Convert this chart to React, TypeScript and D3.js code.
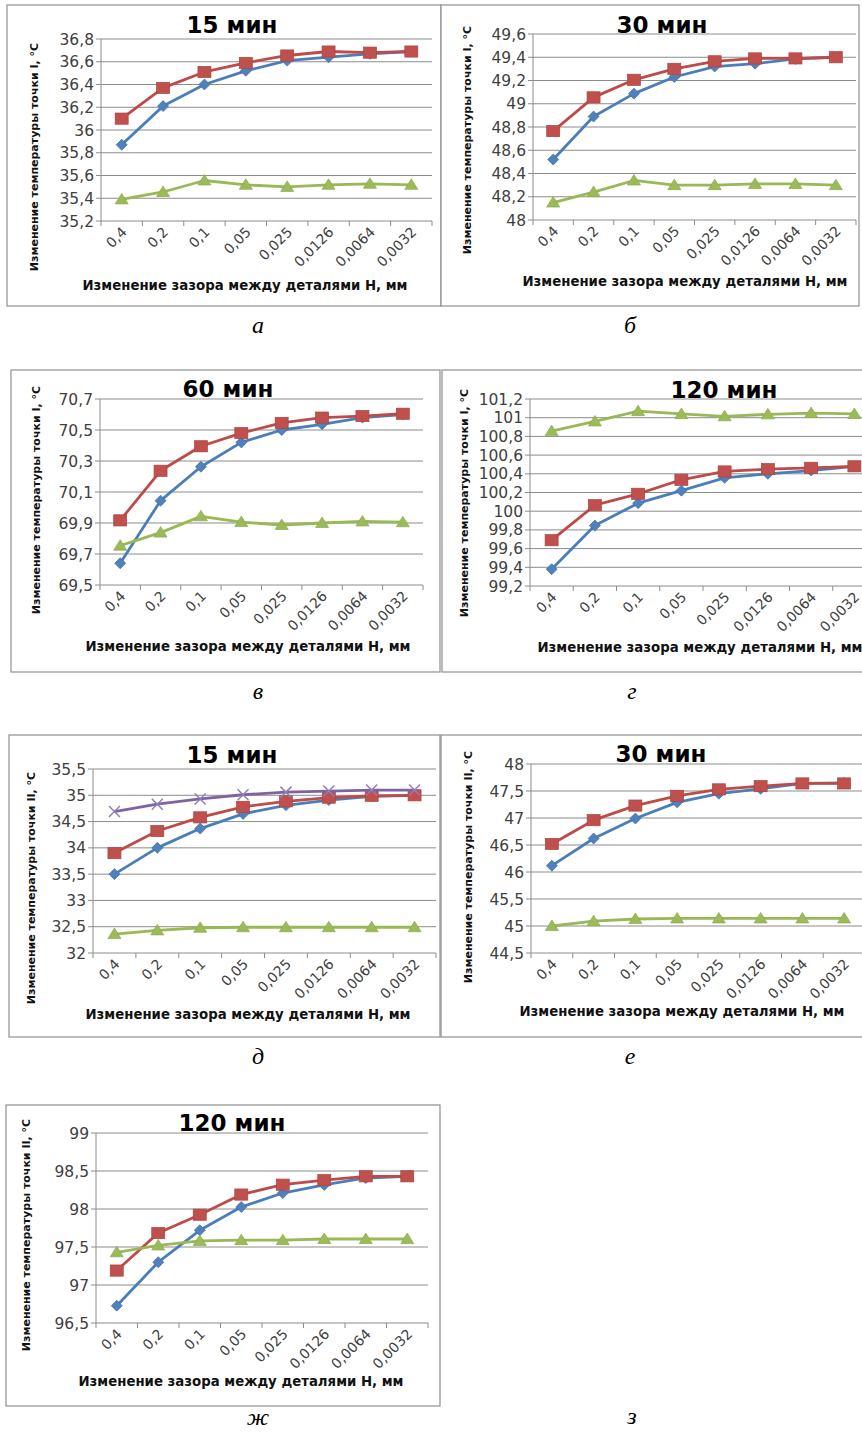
import React from "react";
import * as d3 from "d3";

const W = 862;
const H = 1436;

// категории: зазор между деталями H, мм
const gaps = ["0,4", "0,2", "0,1", "0,05", "0,025", "0,0126", "0,0064", "0,0032"];

// точка I, 15 мин
const i15Blue = [35.87, 36.21, 36.4, 36.52, 36.61, 36.64, 36.67, 36.69];
const i15Red = [36.1, 36.37, 36.51, 36.59, 36.655, 36.69, 36.68, 36.69];
const i15Green = [35.39, 35.455, 35.556, 35.518, 35.5, 35.518, 35.527, 35.518];
const i15Ticks = [35.2, 35.4, 35.6, 35.8, 36, 36.2, 36.4, 36.6, 36.8];

// точка I, 30 мин
const i30Blue = [48.52, 48.89, 49.087, 49.23, 49.32, 49.345, 49.386, 49.4];
const i30Red = [48.765, 49.055, 49.206, 49.3, 49.365, 49.39, 49.39, 49.4];
const i30Green = [48.15, 48.24, 48.34, 48.3, 48.3, 48.31, 48.31, 48.3];
const i30Ticks = [48, 48.2, 48.4, 48.6, 48.8, 49, 49.2, 49.4, 49.6];

// точка I, 60 мин
const i60Blue = [69.64, 70.044, 70.263, 70.42, 70.5, 70.537, 70.58, 70.6];
const i60Red = [69.917, 70.237, 70.395, 70.48, 70.546, 70.58, 70.59, 70.605];
const i60Green = [69.754, 69.838, 69.943, 69.906, 69.887, 69.9, 69.91, 69.905];
const i60Ticks = [69.5, 69.7, 69.9, 70.1, 70.3, 70.5, 70.7];

// точка I, 120 мин
const i120Blue = [99.38, 99.846, 100.086, 100.22, 100.357, 100.4, 100.435, 100.48];
const i120Red = [99.69, 100.064, 100.186, 100.336, 100.425, 100.45, 100.464, 100.48];
const i120Green = [100.857, 100.96, 101.07, 101.04, 101.015, 101.036, 101.05, 101.04];
const i120Ticks = [99.2, 99.4, 99.6, 99.8, 100, 100.2, 100.4, 100.6, 100.8, 101, 101.2];

// точка II, 15 мин
const ii15Blue = [33.5, 34.0, 34.367, 34.646, 34.81, 34.91, 34.98, 35.0];
const ii15Red = [33.9, 34.32, 34.58, 34.78, 34.885, 34.955, 34.99, 35.0];
const ii15Violet = [34.69, 34.83, 34.93, 35.01, 35.06, 35.08, 35.1, 35.1];
const ii15Green = [32.36, 32.43, 32.48, 32.49, 32.49, 32.49, 32.49, 32.49];
const ii15Ticks = [32, 32.5, 33, 33.5, 34, 34.5, 35, 35.5];

// точка II, 30 мин
const ii30Blue = [46.117, 46.62, 46.99, 47.29, 47.45, 47.54, 47.64, 47.65];
const ii30Red = [46.52, 46.96, 47.23, 47.41, 47.53, 47.59, 47.64, 47.64];
const ii30Green = [45.0, 45.09, 45.13, 45.14, 45.14, 45.14, 45.14, 45.14];
const ii30Ticks = [44.5, 45, 45.5, 46, 46.5, 47, 47.5, 48];

// точка II, 120 мин
const ii120Blue = [96.728, 97.3, 97.72, 98.026, 98.21, 98.316, 98.408, 98.43];
const ii120Red = [97.19, 97.684, 97.925, 98.19, 98.32, 98.38, 98.43, 98.43];
const ii120Green = [97.43, 97.52, 97.58, 97.59, 97.59, 97.605, 97.605, 97.605];
const ii120Ticks = [96.5, 97, 97.5, 98, 98.5, 99];

const xTitle = "Изменение зазора между деталями Н, мм";
const yTitleI = "Изменение температуры точки I, °C";
const yTitleII = "Изменение температуры точки II, °C";

const styles = {
  blue: { line: "#4a7ebb", fill: "#4f81bd", marker: "diamond" },
  red: { line: "#be4b48", fill: "#c0504d", marker: "square" },
  green: { line: "#98b954", fill: "#9bbb59", marker: "triangle" },
  violet: { line: "#7e62a1", fill: "#8c7fb8", marker: "cross" },
};

const sans = "'DejaVu Sans', Verdana, sans-serif";
const comma = (v: number) => String(v).replace(".", ",");

const panels = [
  {
    title: "15 мин", yTitle: yTitleI, ticks: i15Ticks,
    series: [["blue", i15Blue], ["red", i15Red], ["green", i15Green]],
    frame: [7, 5, 441, 306], plot: [101, 39, 432, 221],
    titlePos: [232, 33], yTitlePos: [38, 157], xTitlePos: [245, 290],
  },
  {
    title: "30 мин", yTitle: yTitleI, ticks: i30Ticks,
    series: [["blue", i30Blue], ["red", i30Red], ["green", i30Green]],
    frame: [441, 5, 859, 306], plot: [533, 34, 856, 220],
    titlePos: [662, 33], yTitlePos: [471, 140], xTitlePos: [685, 286],
  },
  {
    title: "60 мин", yTitle: yTitleI, ticks: i60Ticks,
    series: [["blue", i60Blue], ["red", i60Red], ["green", i60Green]],
    frame: [11, 370, 440, 672], plot: [100, 399, 423, 585],
    titlePos: [228, 397], yTitlePos: [40, 500], xTitlePos: [248, 651],
  },
  {
    title: "120 мин", yTitle: yTitleI, ticks: i120Ticks,
    series: [["blue", i120Blue], ["red", i120Red], ["green", i120Green]],
    frame: [442, 370, 880, 672], plot: [530, 399, 876, 586],
    titlePos: [724, 398], yTitlePos: [468, 503], xTitlePos: [700, 652],
  },
  {
    title: "15 мин", yTitle: yTitleII, ticks: ii15Ticks,
    series: [["blue", ii15Blue], ["red", ii15Red], ["green", ii15Green], ["violet", ii15Violet]],
    frame: [9, 735, 440, 1037], plot: [93, 769, 436, 953],
    titlePos: [232, 763], yTitlePos: [35, 888], xTitlePos: [248, 1019],
  },
  {
    title: "30 мин", yTitle: yTitleII, ticks: ii30Ticks,
    series: [["blue", ii30Blue], ["red", ii30Red], ["green", ii30Green]],
    frame: [441, 735, 880, 1037], plot: [531, 764, 865, 953],
    titlePos: [661, 762], yTitlePos: [472, 867], xTitlePos: [682, 1016],
  },
  {
    title: "120 мин", yTitle: yTitleII, ticks: ii120Ticks,
    series: [["blue", ii120Blue], ["red", ii120Red], ["green", ii120Green]],
    frame: [6, 1105, 440, 1406], plot: [96, 1133, 428, 1323],
    titlePos: [232, 1131], yTitlePos: [30, 1235], xTitlePos: [241, 1386],
  },
];

const captions = [
  ["а", 258, 333], ["б", 630, 333],
  ["в", 258, 699], ["г", 632, 699],
  ["д", 258, 1064], ["е", 630, 1064],
  ["ж", 258, 1425], ["з", 632, 1424],
];

const Marker = ({ kind, x, y, fill }: any) => {
  if (kind === "square")
    return <rect x={x - 6.5} y={y - 5.6} width={13} height={11.2} fill={fill} stroke="#a94441" strokeWidth={0.7} />;
  if (kind === "diamond")
    return <path d={`M${x},${y - 5.5}L${x + 5.5},${y}L${x},${y + 5.5}L${x - 5.5},${y}Z`} fill={fill} stroke="#3d6fa8" strokeWidth={0.7} />;
  if (kind === "triangle")
    return <path d={`M${x},${y - 6}L${x + 6.5},${y + 4.5}L${x - 6.5},${y + 4.5}Z`} fill={fill} stroke="#8aab4a" strokeWidth={0.7} />;
  return (
    <g stroke={fill} strokeWidth={1.5}>
      <line x1={x - 5.5} y1={y - 5.5} x2={x + 5.5} y2={y + 5.5} />
      <line x1={x - 5.5} y1={y + 5.5} x2={x + 5.5} y2={y - 5.5} />
    </g>
  );
};

const Panel = ({ p }: any) => {
  const [l, t, r, b] = p.plot;
  const x = d3.scaleBand().domain(gaps).range([l, r]).padding(0);
  const y = d3.scaleLinear().domain(d3.extent(p.ticks) as [number, number]).range([b, t]);
  const line = d3
    .line<number>()
    .x((_, i) => x(gaps[i])! + x.bandwidth() / 2)
    .y((d) => y(d));
  const [fx0, fy0, fx1, fy1] = p.frame;

  return (
    <g>
      <rect x={fx0} y={fy0} width={fx1 - fx0} height={fy1 - fy0} fill="#fff" stroke="#8f8f8f" strokeWidth={1.2} />
      {p.ticks.map((v: number) => (
        <g key={v}>
          <line x1={l - 5} x2={r} y1={y(v)} y2={y(v)} stroke="#8c8c8c" strokeWidth={1} />
          <text x={l - 7} y={y(v) + 5.5} textAnchor="end" fontFamily={sans} fontSize={15.5} fill="#404040">
            {comma(v)}
          </text>
        </g>
      ))}
      <line x1={l} x2={l} y1={t} y2={b} stroke="#8c8c8c" strokeWidth={1} />
      {[...gaps.map((g) => x(g)!), r].map((xv, i) => (
        <line key={i} x1={xv} x2={xv} y1={b} y2={b + 5} stroke="#8c8c8c" strokeWidth={1} />
      ))}
      {gaps.map((g) => {
        const cx = x(g)! + x.bandwidth() / 2;
        return (
          <text
            key={g}
            transform={`translate(${cx + 6},${b + 12}) rotate(-45)`}
            textAnchor="end"
            fontFamily={sans}
            fontSize={14}
            fill="#404040"
          >
            {g}
          </text>
        );
      })}
      {p.series.map(([k, vals]: any) => {
        const s = (styles as any)[k];
        return (
          <g key={k}>
            <path d={line(vals)!} fill="none" stroke={s.line} strokeWidth={2.8} strokeLinejoin="round" />
            {vals.map((v: number, i: number) => (
              <Marker key={i} kind={s.marker} x={x(gaps[i])! + x.bandwidth() / 2} y={y(v)} fill={s.fill} />
            ))}
          </g>
        );
      })}
      <text x={p.titlePos[0]} y={p.titlePos[1]} textAnchor="middle" fontFamily={sans} fontWeight="bold" fontSize={23} fill="#000">
        {p.title}
      </text>
      <text
        transform={`translate(${p.yTitlePos[0]},${p.yTitlePos[1]}) rotate(-90)`}
        textAnchor="middle"
        fontFamily={sans}
        fontWeight="bold"
        fontSize={11}
        fill="#111"
      >
        {p.yTitle}
      </text>
      <text x={p.xTitlePos[0]} y={p.xTitlePos[1]} textAnchor="middle" fontFamily={sans} fontWeight="bold" fontSize={13.3} fill="#111">
        {xTitle}
      </text>
    </g>
  );
};

export default function App() {
  return (
    <svg width={W} height={H} style={{ display: "block", position: "absolute", left: 0, top: 0 }}>
      <rect width={W} height={H} fill="#fff" />
      {panels.map((p, i) => (
        <Panel key={i} p={p} />
      ))}
      {captions.map(([c, cx, cy]) => (
        <text key={c as string} x={cx as number} y={cy as number} textAnchor="middle" fontFamily="'Liberation Serif', 'Times New Roman', serif" fontStyle="italic" fontSize={24} fill="#000">
          {c}
        </text>
      ))}
    </svg>
  );
}
